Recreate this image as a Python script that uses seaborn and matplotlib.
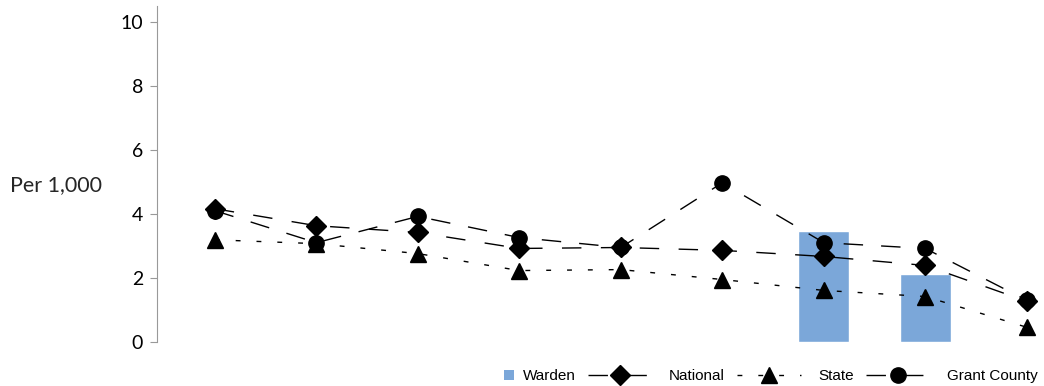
import pandas as pd
import matplotlib.pyplot as plt
import seaborn as sns
from matplotlib.patches import Rectangle
from matplotlib.legend_handler import HandlerPatch

periods = list(range(9))
warden = [None, None, None, None, None, None, 3.49, 2.12, None]
national = [4.17, 3.64, 3.43, 2.93, 2.96, 2.87, 2.68, 2.40, 1.28]
state = [3.20, 3.08, 2.77, 2.24, 2.27, 1.96, 1.62, 1.43, 0.47]
grant_county = [4.11, 3.11, 3.93, 3.27, 2.96, 4.98, 3.11, 2.93, 1.31]
y_ticks = [0, 2, 4, 6, 8, 10]
bar_color = '#7ba7d9'

sns.set_style("white")
plt.rcParams['font.family'] = ['Lato', 'DejaVu Sans']
plt.rcParams['text.color'] = 'black'
plt.rcParams['ytick.color'] = 'black'

df = pd.DataFrame({
    'period': periods,
    'Warden': warden,
    'National': national,
    'State': state,
    'Grant County': grant_county,
})

fig = plt.figure(figsize=(10.44, 3.86), dpi=100)
ax = fig.add_axes([0.1504, 0.1132, 0.8496, 0.8713])

bars = df.dropna(subset=['Warden'])
sns.barplot(data=bars, x='period', y='Warden', native_scale=True, width=0.5,
            color=bar_color, saturation=1, ax=ax)

styles = {
    'National': dict(marker='D', markersize=10, dashes=(14, 14)),
    'State': dict(marker='^', markersize=11, dashes=(3.5, 11.5)),
    'Grant County': dict(marker='o', markersize=11, dashes=(14, 13)),
}
lines = []
for name, st in styles.items():
    ln, = ax.plot(df['period'], df[name], color='black', lw=1.0, label=name,
                  marker=st['marker'], markersize=st['markersize'], dashes=st['dashes'],
                  clip_on=False)
    lines.append(ln)

ax.set_xlim(-0.57, 8.17)
ax.set_ylim(0, 10.5)
ax.set_yticks(y_ticks)
ax.set_xticks([])
ax.set_xlabel('')
ax.set_ylabel('Per 1,000', rotation=0, fontsize=15.5, labelpad=0, ha='left', va='center')
ax.yaxis.set_label_coords(-0.166, 0.466)
ax.tick_params(axis='y', left=True, length=5, color='#999999', labelsize=14, pad=5)
for s in ['top', 'right', 'bottom']:
    ax.spines[s].set_visible(False)
ax.spines['left'].set_color('#999999')


# Warden key is a small square sitting right next to its text
def small_square(legend, orig_handle, xdescent, ydescent, width, height, fontsize):
    side = fontsize * 0.6
    return Rectangle((width - side - xdescent + fontsize * 0.5, -ydescent + (height - side) / 2),
                     side, side)


warden_handle = Rectangle((0, 0), 1, 1, facecolor=bar_color, edgecolor='none')
ax.legend([warden_handle] + lines, ['Warden', 'National', 'State', 'Grant County'], ncol=4,
          loc='lower right', bbox_to_anchor=(0.9995, -0.14),
          frameon=False, prop={'family': 'Liberation Sans', 'size': 11},
          handlelength=4.2, handleheight=0.8,
          columnspacing=0.8, handletextpad=1.1, borderaxespad=0,
          handler_map={Rectangle: HandlerPatch(patch_func=small_square)})

plt.savefig('out.png', dpi=100)
plt.close()
